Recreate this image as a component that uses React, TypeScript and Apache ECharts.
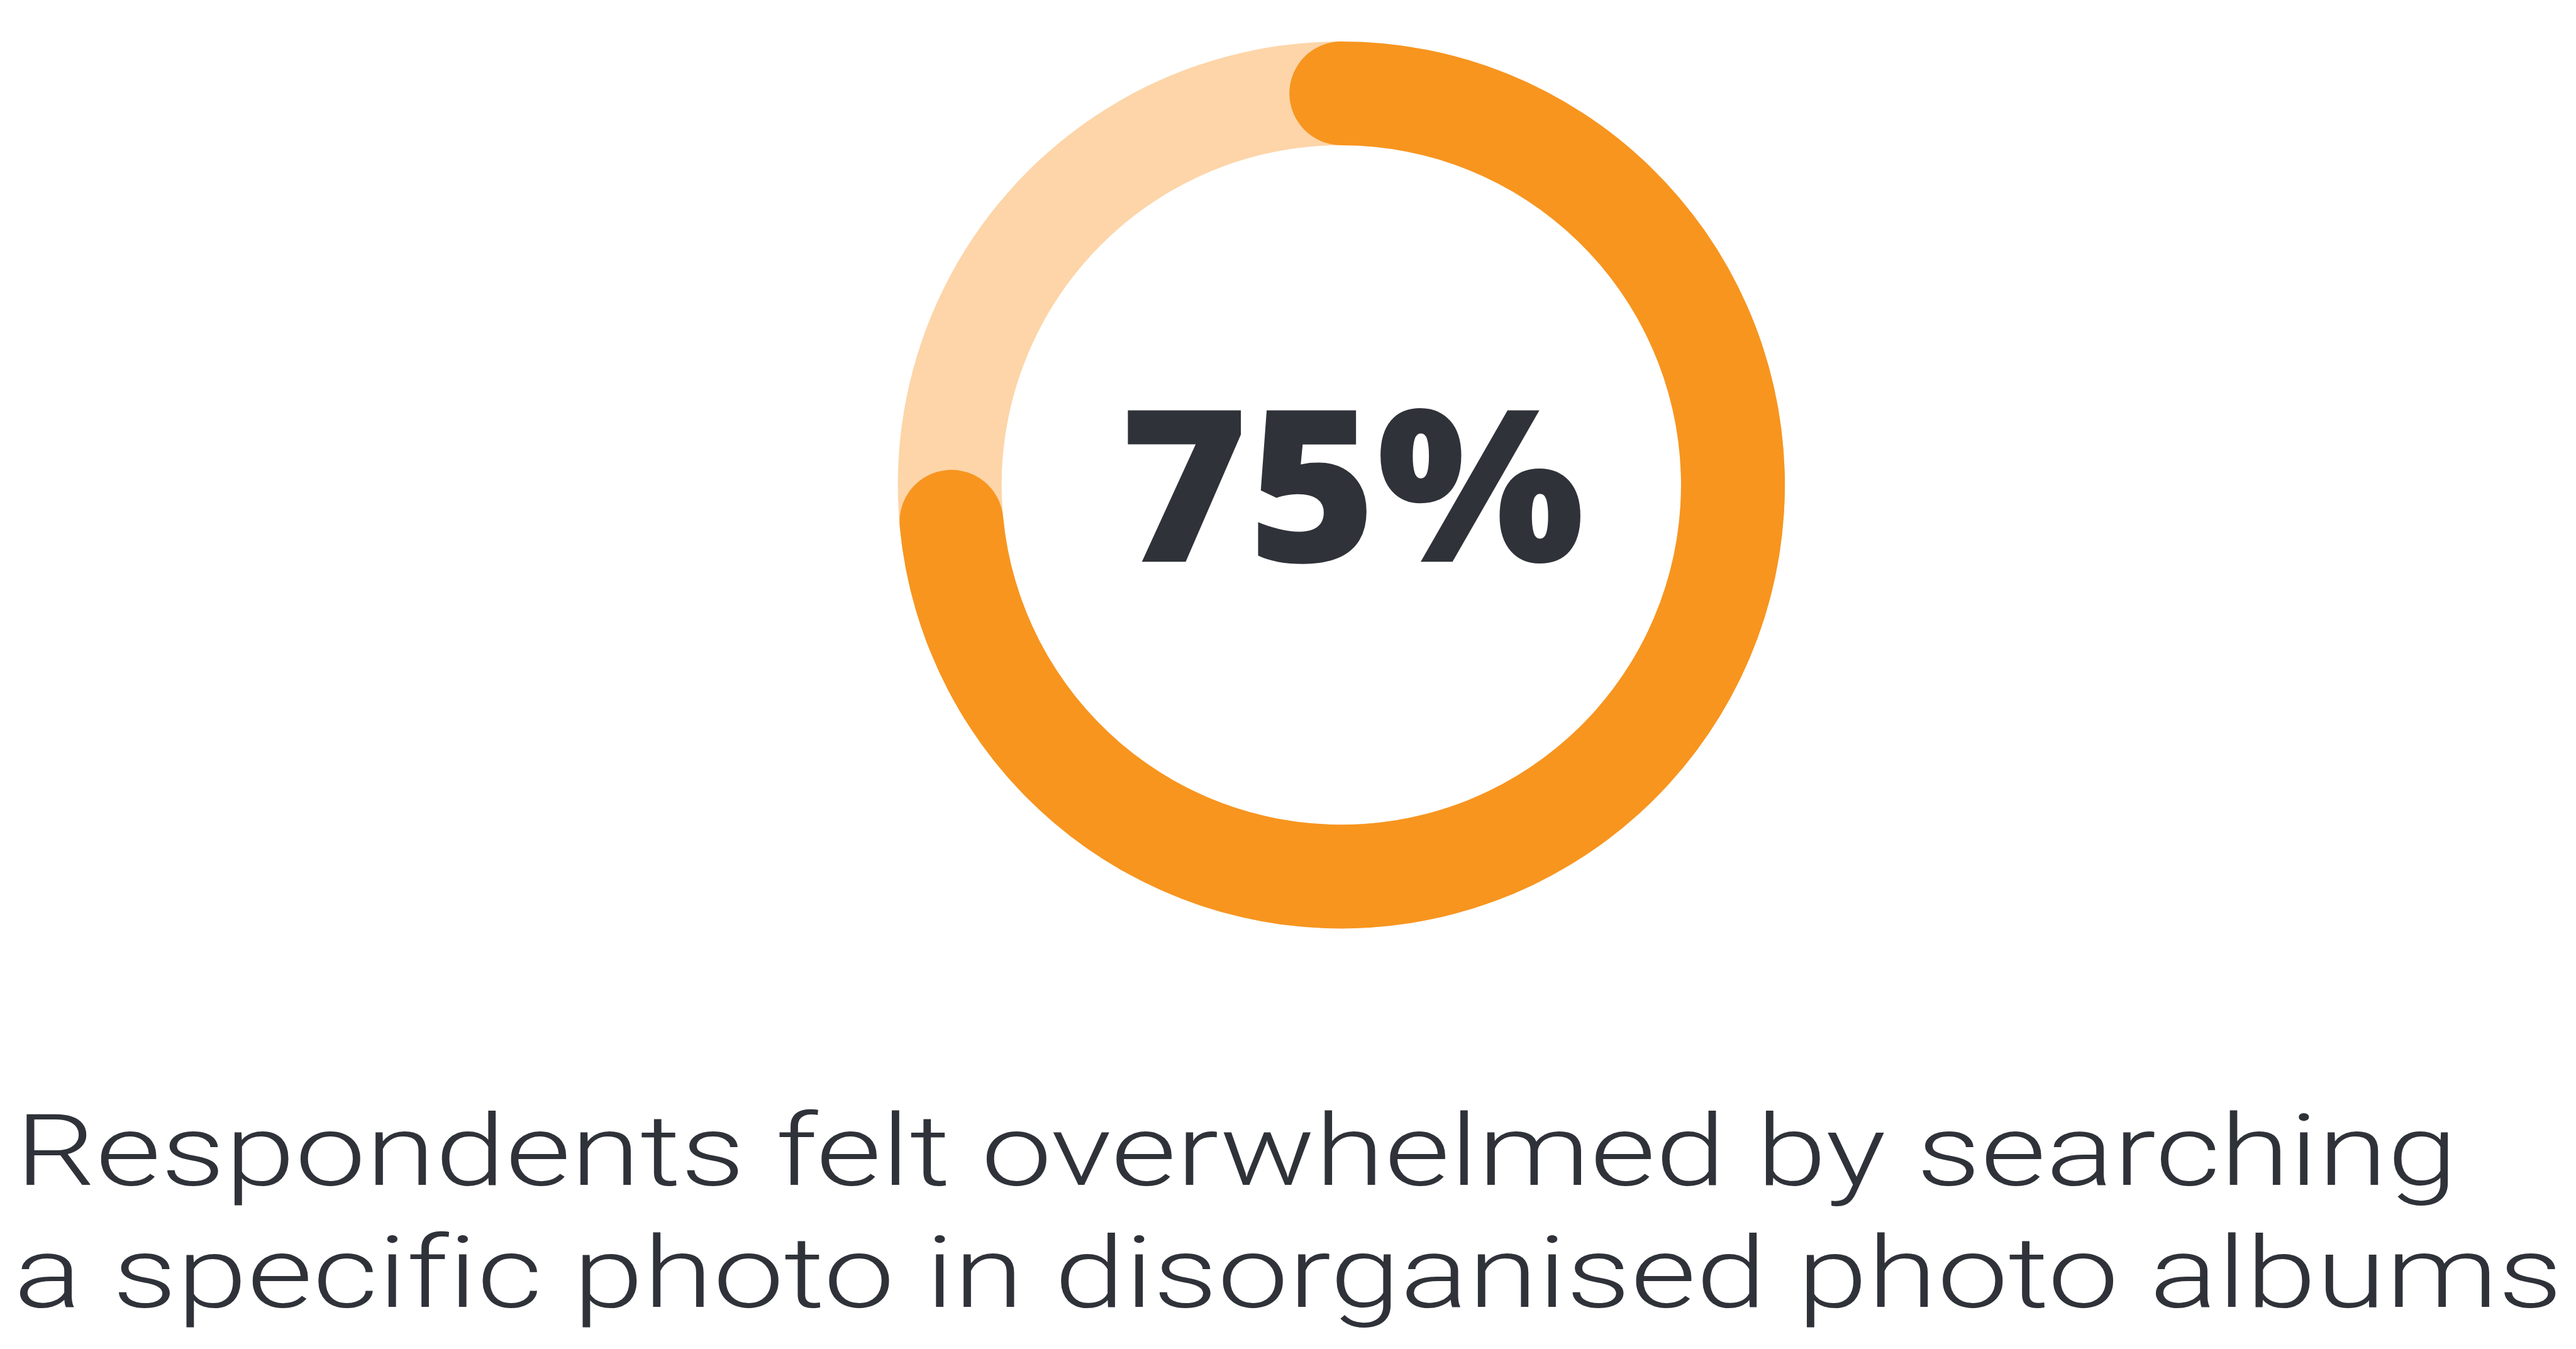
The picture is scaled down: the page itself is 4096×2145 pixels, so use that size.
import React, { useEffect, useRef } from 'react';
import * as echarts from 'echarts';

// ---- data ----
const categories = ['Respondents'];
const ringTotal = [100];
const arcShare = [73.5]; // share of the ring covered by the orange arc, as drawn (cap centre to cap centre)
const centerLabel = ['75%'];
const captionLines = [
  'Respondents felt overwhelmed by searching',
  'a specific photo in disorganised photo albums',
];

// ---- layout (reference px scaled by K) ----
const W = 4096;
const H = 2145;
const K = 0.775;
const CX = 2752 * K;
const CY = 995 * K;
const R_OUT = 910 * K;
const R_IN = 697 * K;

const ORANGE = '#F7951F';
const LIGHT = '#FDD5A8';
const DARK = '#2F3239';

type Fit = { x: number; y: number; s: number; F: number };

function measureCtx(font: string) {
  const ctx = document.createElement('canvas').getContext('2d') as CanvasRenderingContext2D;
  ctx.font = font;
  return ctx;
}

function fitText(
  text: string,
  family: string,
  weight: number | string,
  F: number,
  left: number,
  right: number,
  baseline: number
): Fit {
  const ctx = measureCtx(`${weight} ${F}px ${family}`);
  const m = ctx.measureText(text);
  const inkW = m.actualBoundingBoxLeft + m.actualBoundingBoxRight;
  const s = (right - left) / inkW;
  const x = left + m.actualBoundingBoxLeft * s;
  const fa = m.fontBoundingBoxAscent ?? F * 0.9;
  const fd = m.fontBoundingBoxDescent ?? F * 0.25;
  const y = baseline - (fa - fd) / 2;
  return { x, y, s, F };
}

function sizeForCap(family: string, weight: number | string, capChar: string, capH: number) {
  const ctx = measureCtx(`${weight} 100px ${family}`);
  const capPer100 = ctx.measureText(capChar).actualBoundingBoxAscent || 72;
  return (capH / capPer100) * 100;
}

function textEl(text: string, fit: Fit, family: string, weight: number | string) {
  return {
    type: 'text',
    x: fit.x,
    y: fit.y,
    scaleX: fit.s,
    z: 10,
    style: {
      text,
      fontFamily: family,
      fontWeight: weight,
      fontSize: fit.F,
      fill: DARK,
      align: 'left',
      verticalAlign: 'middle',
      textAlign: 'left',
      textVerticalAlign: 'middle',
    },
  };
}

export default function App() {
  const ref = useRef<HTMLDivElement>(null);
  useEffect(() => {
    if (!ref.current) return;
    const chart = echarts.init(ref.current, undefined, { renderer: 'svg' });

    const bigFamily = '"Open Sans"';
    const bigWeight = 800;
    const capFamily = 'Roboto';
    const capWeight = 300;

    const bigF = sizeForCap(bigFamily, bigWeight, '7', (1153 - 844) * K);
    const bigFit = fitText(centerLabel[0], bigFamily, bigWeight, bigF, 2311 * K, 3246 * K, 1153 * K);
    const capF = sizeForCap(capFamily, capWeight, 'R', (2431 - 2285) * K);
    const l1 = fitText(captionLines[0], capFamily, capWeight, capF, 53 * K, 5024 * K, 2431 * K);
    const l2 = fitText(captionLines[1], capFamily, capWeight, capF, 40 * K, 5237 * K, 2681 * K);

    const ringWidth = R_OUT - R_IN;

    chart.setOption({
      animation: false,
      backgroundColor: '#ffffff',
      series: [
        {
          type: 'gauge',
          center: [CX, CY],
          radius: R_OUT,
          startAngle: 90,
          endAngle: -270,
          clockwise: true,
          min: 0,
          max: ringTotal[0],
          silent: true,
          axisLine: {
            show: true,
            roundCap: false,
            lineStyle: { width: ringWidth, color: [[1, LIGHT]] },
          },
          progress: {
            show: true,
            overlap: true,
            roundCap: true,
            width: ringWidth,
            itemStyle: { color: ORANGE },
          },
          pointer: { show: false },
          anchor: { show: false },
          axisTick: { show: false },
          splitLine: { show: false },
          axisLabel: { show: false },
          title: { show: false },
          detail: { show: false },
          data: [{ name: categories[0], value: arcShare[0] }],
        },
      ],
      graphic: [
        textEl(centerLabel[0], bigFit, bigFamily, bigWeight),
        textEl(captionLines[0], l1, capFamily, capWeight),
        textEl(captionLines[1], l2, capFamily, capWeight),
      ],
    });
    return () => chart.dispose();
  }, []);
  return (
    <>
      <style>{`svg text { font-variant-ligatures: none; }`}</style>
      <div
        ref={ref}
        style={{ position: 'absolute', left: 0, top: 0, width: W, height: H, background: '#fff' }}
      />
    </>
  );
}
